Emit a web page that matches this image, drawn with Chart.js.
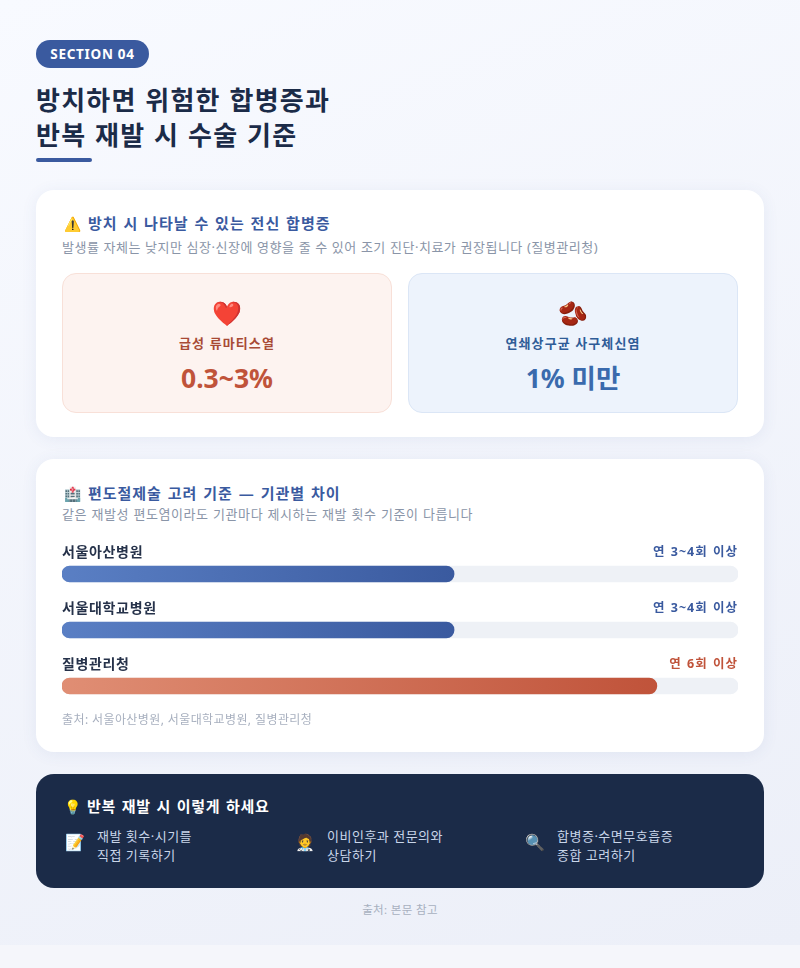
<!DOCTYPE html>
<html lang="ko">
<head>
<meta charset="utf-8">
<title>SECTION 04</title>
<script src="https://cdn.jsdelivr.net/npm/chart.js@4"></script>
<style>
  * { box-sizing: border-box; margin: 0; padding: 0; }
  html, body { background: #f5f6fb; }
  body { font-family: "Noto Sans", "Noto Sans CJK KR", sans-serif; width: 800px; height: 968px; overflow: hidden; }
  .page { position: relative; width: 800px; height: 945px; background: linear-gradient(160deg, #f8faff 0%, #eceff8 100%); }
  .badge { position: absolute; left: 36px; top: 40px; width: 113px; height: 28px; border-radius: 14px; background: #3a5a9f; color: #fff; font-size: 13.5px; font-weight: 700; letter-spacing: .7px; line-height: 28px; text-align: center; }
  h1 { position: absolute; left: 36px; top: 83px; font-size: 26px; line-height: 35px; font-weight: 700; color: #1b2b48; letter-spacing: 1.22px; word-spacing: .8px; }
  .rule { position: absolute; left: 36px; top: 158px; width: 56px; height: 4px; border-radius: 2px; background: #3a5a9f; }
  .card { position: absolute; left: 36px; width: 728px; background: #fff; border-radius: 18px; box-shadow: 0 2px 16px rgba(58,90,159,.08); }
  .card1 { top: 190px; height: 247px; }
  .card2 { top: 459px; height: 293px; }
  .head { position: absolute; left: 28px; font-size: 15px; font-weight: 700; line-height: 22px; color: #3a5a9f; letter-spacing: 1px; word-spacing: 1px; white-space: nowrap; }
  .head i { font-style: normal; font-size: 14px; margin-right: 1px; letter-spacing: 0; }
  .sub { position: absolute; left: 26px; font-size: 13px; line-height: 18px; color: #8a95a8; white-space: nowrap; }
  .box { position: absolute; top: 83px; width: 330px; height: 140px; border-radius: 14px; text-align: center; }
  .box.red { left: 26px; background: #fdf3f0; border: 1px solid #f8e0d8; color: #c0533a; }
  .box.blue { left: 372px; background: #edf3fc; border: 1px solid #dbe6f6; color: #3a6aad; }
  .box .ico { position: absolute; left: 0; right: 0; top: 21px; font-size: 24px; line-height: 36px; }
  .box .nm { position: absolute; left: 0; right: 0; top: 59px; font-size: 13px; font-weight: 700; line-height: 20px; letter-spacing: 1.1px; }
  .box.red .nm { color: #a84a35; }
  .box.blue .nm { color: #2f5c97; }
  .box .val { position: absolute; left: 0; right: 0; top: 85px; font-size: 26.5px; font-weight: 700; line-height: 38px; }
  #barWrap { position: absolute; left: 26px; top: 87px; width: 676px; height: 168px; }
  .rowlabel { position: absolute; left: 26px; font-size: 14px; font-weight: 700; line-height: 20px; color: #26324a; letter-spacing: .65px; }
  .rowvalue { position: absolute; right: 26px; font-size: 12.5px; font-weight: 700; line-height: 20px; letter-spacing: 1px; word-spacing: 1px; }
  .src { position: absolute; left: 26px; top: 252px; font-size: 12px; line-height: 18px; color: #a8b0bf; letter-spacing: .4px; }
  .tips { position: absolute; left: 36px; top: 774px; width: 728px; height: 114px; border-radius: 18px; background: #1b2b48; }
  .tips .t { position: absolute; left: 28px; top: 21px; font-size: 15px; font-weight: 700; line-height: 22px; color: #fff; white-space: nowrap; letter-spacing: .65px; word-spacing: 1.3px; }
  .tips .t i { font-style: normal; font-size: 14px; margin-right: 6px; letter-spacing: 0; }
  .tip { position: absolute; top: 53px; font-size: 13px; line-height: 19px; color: #c9d6ea; white-space: pre-line; letter-spacing: .5px; }
  .tipico { position: absolute; top: 58px; font-size: 16px; line-height: 20px; }
  .foot { position: absolute; left: 0; right: 0; top: 901px; text-align: center; font-size: 11.5px; line-height: 18px; color: #a8b0bf; letter-spacing: .35px; }
</style>
</head>
<body>
<div class="page">
  <div class="badge">SECTION 04</div>
  <h1>방치하면 위험한 합병증과<br>반복 재발 시 수술 기준</h1>
  <div class="rule"></div>

  <div class="card card1">
    <div class="head" style="top:22px"><i>⚠️</i> 방치 시 나타날 수 있는 전신 합병증</div>
    <div class="sub" style="top:48px;letter-spacing:.52px;word-spacing:.2px">발생률 자체는 낮지만 심장·신장에 영향을 줄 수 있어 조기 진단·치료가 권장됩니다 (질병관리청)</div>
    <div class="box red">
      <div class="ico">❤️</div>
      <div class="nm">급성 류마티스열</div>
      <div class="val">0.3~3%</div>
    </div>
    <div class="box blue">
      <div class="ico">🫘</div>
      <div class="nm">연쇄상구균 사구체신염</div>
      <div class="val">1% 미만</div>
    </div>
  </div>

  <div class="card card2" id="card2">
    <div class="head" style="top:23px"><i>🏥</i> 편도절제술 고려 기준 — 기관별 차이</div>
    <div class="sub" style="top:46px;letter-spacing:.58px;word-spacing:.4px">같은 재발성 편도염이라도 기관마다 제시하는 재발 횟수 기준이 다릅니다</div>
    <div id="barWrap"><canvas id="barChart"></canvas></div>
    <div class="src">출처: 서울아산병원, 서울대학교병원, 질병관리청</div>
  </div>

  <div class="tips">
    <div class="t"><i>💡</i>반복 재발 시 이렇게 하세요</div>
    <div class="tipico" style="left:29px">📝</div>
    <div class="tip" style="left:61px">재발 횟수·시기를
직접 기록하기</div>
    <div class="tipico" style="left:259px">🧑‍⚕️</div>
    <div class="tip" style="left:291px">이비인후과 전문의와
상담하기</div>
    <div class="tipico" style="left:489px">🔍</div>
    <div class="tip" style="left:521px">합병증·수면무호흡증
종합 고려하기</div>
  </div>
  <div class="foot">출처: 본문 참고</div>
</div>

<script>
// bar lengths are percent of the track
const institutions = ['서울아산병원', '서울대학교병원', '질병관리청'];
const barValues = [58, 58, 88];
const trackValues = [100, 100, 100];
const criteria = ['연 3~4회 이상', '연 3~4회 이상', '연 6회 이상'];
const startColors = ['#5a7fc4', '#5a7fc4', '#e08e74'];
const endColors = ['#3a5a9f', '#3a5a9f', '#c0533a'];
const criteriaColors = ['#3a5a9f', '#3a5a9f', '#c0533a'];

// labels above each bar
let card2 = document.getElementById('card2');
for (let i = 0; i < institutions.length; i++) {
  let top = 83 + i * 56;
  let label = document.createElement('div');
  label.className = 'rowlabel';
  label.style.top = top + 'px';
  label.textContent = institutions[i];
  card2.appendChild(label);

  let value = document.createElement('div');
  value.className = 'rowvalue';
  value.style.top = top + 'px';
  value.style.color = criteriaColors[i];
  value.textContent = criteria[i];
  card2.appendChild(value);
}

function barGradient(context) {
  let chart = context.chart;
  if (!chart.chartArea) {
    return endColors[context.dataIndex];
  }
  let xScale = chart.scales.x;
  let left = xScale.getPixelForValue(0);
  let right = xScale.getPixelForValue(barValues[context.dataIndex]);
  let gradient = chart.ctx.createLinearGradient(left, 0, right, 0);
  gradient.addColorStop(0, startColors[context.dataIndex]);
  gradient.addColorStop(1, endColors[context.dataIndex]);
  return gradient;
}

const data = {
  labels: institutions,
  datasets: [
    {
      label: '기준',
      data: barValues,
      backgroundColor: barGradient,
      order: 1
    },
    {
      label: 'track',
      data: trackValues,
      backgroundColor: '#eef1f6',
      order: 2
    }
  ]
};

const config = {
  type: 'bar',
  data: data,
  options: {
    indexAxis: 'y',
    responsive: true,
    maintainAspectRatio: false,
    animation: false,
    layout: { padding: 0 },
    datasets: {
      bar: {
        grouped: false,
        barThickness: 16,
        borderRadius: 8,
        borderSkipped: false
      }
    },
    scales: {
      x: { display: false, min: 0, max: 100 },
      y: { display: false }
    },
    plugins: {
      legend: { display: false },
      tooltip: { enabled: false }
    }
  }
};

new Chart(document.getElementById('barChart'), config);
</script>
</body>
</html>
